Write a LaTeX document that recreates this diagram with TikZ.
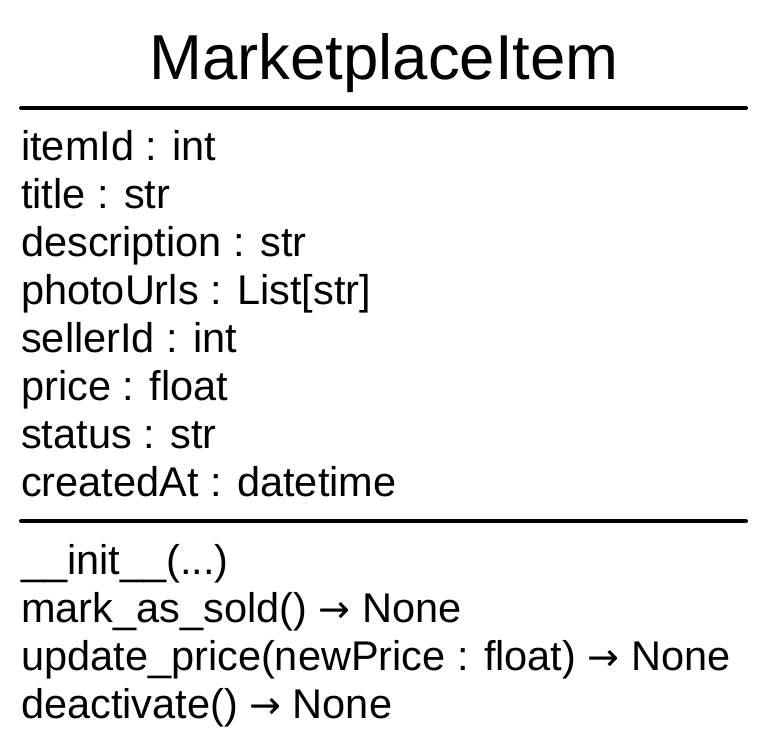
\documentclass[tikz,border=0pt]{standalone}
\usepackage{fontspec}
\setmainfont{Liberation Sans}
\newfontfamily\arrowfont{DejaVu Sans}
\usepackage{tikz}

\newcommand{\ret}{{\arrowfont\fontsize{38}{44}\selectfont\char"2192}}

\tikzset{
  classname/.style={anchor=base, inner sep=0pt, font=\fontsize{63.5}{76}\selectfont},
  member/.style={anchor=base west, inner sep=0pt, font=\fontsize{41.5}{50}\selectfont},
  divider/.style={line width=4pt, line cap=round}
}

\begin{document}
\begin{tikzpicture}[x=1pt, y=1pt]
        \useasboundingbox (0,0) rectangle (767,-748);

        \node[classname] (name) at (384,-79) {MarketplaceItem};
        \draw[divider] (21,-108) -- (746,-108);

        \node[member] (itemid) at (21,-160) {itemId : int};
        \node[member] (title) at (21,-208) {title : str};
        \node[member] (descr) at (21,-256) {description : str};
        \node[member] (photos) at (21,-304) {photoUrls : List[str]};
        \node[member] (seller) at (21,-352) {sellerId : int};
        \node[member] (price) at (21,-400) {price : float};
        \node[member] (status) at (21,-448) {status : str};
        \node[member] (created) at (21,-496) {createdAt : datetime};

        \draw[divider] (21,-521) -- (746,-521);

        \node[member] (init) at (21,-574) {\_\_init\_\_(...)};
        \node[member] (sold) at (21,-622) {mark\_as\_sold() \ret{} None};
        \node[member] (update) at (21,-670) {update\_price(newPrice : float) \ret{} None};
        \node[member] (deact) at (21,-718) {deactivate() \ret{} None};
    \end{tikzpicture}
\end{document}
